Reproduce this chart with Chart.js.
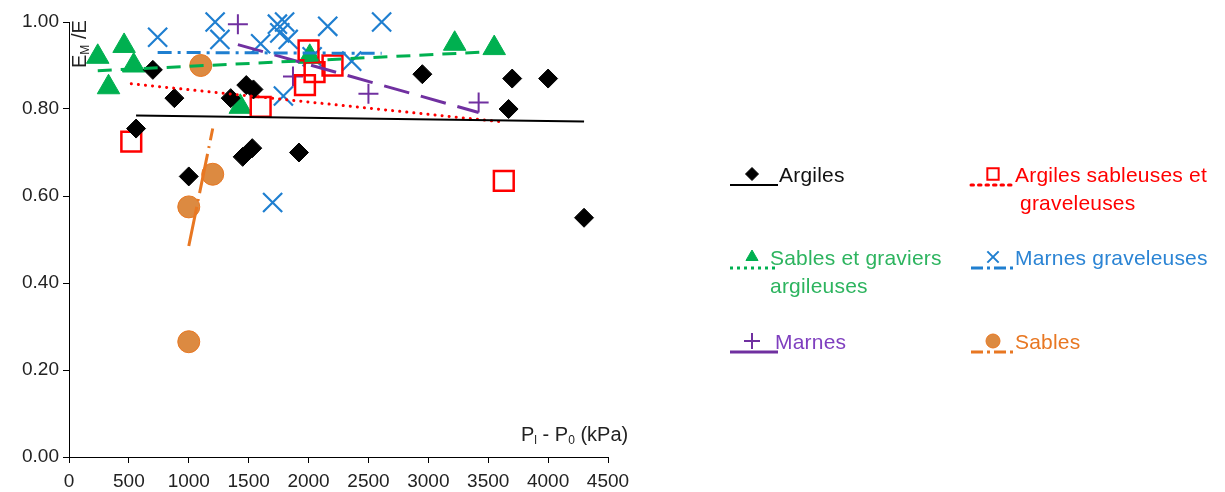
<!DOCTYPE html>
<html>
<head>
<meta charset="utf-8">
<script src="https://cdn.jsdelivr.net/npm/chart.js@4.4.1/dist/chart.umd.min.js"></script>
<style>
  body { margin: 0; background: #fff; font-family: "Liberation Sans", Arial, sans-serif; }
  #wrap { position: relative; width: 1225px; height: 492px; }
  .lbl { position: absolute; white-space: nowrap; font-size: 21px; line-height: 24px; letter-spacing: 0.2px; }
  .axt { position: absolute; white-space: nowrap; font-size: 20px; color: #222; }
  .axt sub { font-size: 12px; vertical-align: -3px; }
</style>
</head>
<body>
<div id="wrap">
  <canvas id="graf" width="1225" height="492"></canvas>
  <div class="axt" style="left:521px; top:423px;">P<sub>l</sub> - P<sub>0</sub> (kPa)</div>
  <div class="axt" style="left:50px; top:28px; transform: rotate(-90deg); transform-origin: 29px 11px;">E<sub>M</sub> /E</div>
</div>
<script>
// valeurs (Pl - P0 en kPa, EM/E)
const argilesX = [560, 700, 880, 1000, 1350, 1480, 1540, 1450, 1530, 1920, 2950, 3700, 4000, 3670, 4300];
const argilesY = [0.755, 0.89, 0.825, 0.645, 0.825, 0.855, 0.845, 0.69, 0.71, 0.70, 0.88, 0.87, 0.87, 0.80, 0.55];

const argSabX = [520, 1600, 2000, 2050, 1970, 2200, 3630];
const argSabY = [0.725, 0.805, 0.935, 0.885, 0.855, 0.90, 0.635];

const sabGravX = [240, 460, 540, 330, 1430, 2010, 3220, 3550];
const sabGravY = [0.92, 0.945, 0.90, 0.85, 0.805, 0.92, 0.95, 0.94];

const marnesGravX = [740, 1220, 1260, 1600, 1740, 1800, 1760, 1830, 2160, 2610, 2030, 2360, 1790, 1700];
const marnesGravY = [0.965, 1.0, 0.96, 0.95, 0.995, 1.0, 0.975, 0.96, 0.99, 1.0, 0.92, 0.91, 0.83, 0.585];

const marnesX = [1410, 1870, 2500, 3420];
const marnesY = [0.995, 0.875, 0.835, 0.815];

const sablesX = [1100, 1200, 1000, 1000];
const sablesY = [0.90, 0.65, 0.575, 0.265];

// courbes de tendance (extrémités)
const argilesTendX = [560, 4300];
const argilesTendY = [0.785, 0.771];
const argSabTendX = [520, 3630];
const argSabTendY = [0.858, 0.77];
const sabGravTendX = [240, 3550];
const sabGravTendY = [0.888, 0.932];
const marnesGravTendX = [740, 2610];
const marnesGravTendY = [0.93, 0.928];
const marnesTendX = [1410, 3420];
const marnesTendY = [0.948, 0.792];
const sablesTendX = [1000, 1200];
const sablesTendY = [0.485, 0.755];

const xTicks = [0, 500, 1000, 1500, 2000, 2500, 3000, 3500, 4000, 4500];
const yTicks = [0, 0.2, 0.4, 0.6, 0.8, 1.0];

const pts = (xs, ys) => xs.map((x, i) => ({ x: x, y: ys[i] }));

const noir = '#000000', rouge = '#ff0000', vert = '#00b050', bleu = '#1f7fd0', violet = '#7030a0', orange = '#e87722', orangeRond = '#dc8a41';

const series = [
  { nom: 'Argiles', col: noir, txt: '#111', style: 'rectRot', r: 9.5, fill: noir, bw: 1, dash: [], lw: 2, x: 730, y: 175, lignes: ['Argiles'] },
  { nom: 'Argiles sableuses et graveleuses', col: rouge, txt: rouge, style: 'rect', r: 14, fill: 'rgba(0,0,0,0)', bw: 2.5, dash: [0.1, 7], lw: 3, x: 971, y: 175, lignes: ['Argiles sableuses et', 'graveleuses'] },
  { nom: 'Sables et graviers argileuses', col: vert, txt: '#2db45f', style: 'triangle', r: 13, fill: vert, bw: 1, dash: [14, 9], lw: 3, x: 730, y: 258, lignes: ['Sables et graviers', 'argileuses'] },
  { nom: 'Marnes graveleuses', col: bleu, txt: '#2b84d4', style: 'crossRot', r: 13.5, fill: bleu, bw: 2.2, dash: [14, 6, 3, 6], lw: 3, x: 971, y: 258, lignes: ['Marnes graveleuses'] },
  { nom: 'Marnes', col: violet, txt: '#7f3fbf', style: 'cross', r: 10, fill: violet, bw: 2, dash: [26, 12], lw: 3, x: 730, y: 342, lignes: ['Marnes'] },
  { nom: 'Sables', col: orange, txt: orange, style: 'circle', r: 11, fill: orangeRond, bw: 1, dash: [40, 6, 2, 6], lw: 3, x: 971, y: 342, lignes: ['Sables'] }
];
const donnees = [[argilesX, argilesY], [argSabX, argSabY], [sabGravX, sabGravY], [marnesGravX, marnesGravY], [marnesX, marnesY], [sablesX, sablesY]];
const tendances = [[argilesTendX, argilesTendY], [argSabTendX, argSabTendY], [sabGravTendX, sabGravTendY], [marnesGravTendX, marnesGravTendY], [marnesTendX, marnesTendY], [sablesTendX, sablesTendY]];

const datasets = [];
series.forEach((s, i) => {
  datasets.push({
    label: s.nom + ' (tendance)',
    data: pts(tendances[i][0], tendances[i][1]),
    showLine: true,
    borderColor: s.col,
    borderWidth: s.lw,
    borderDash: s.dash,
    borderCapStyle: s.dash[0] < 1 ? 'round' : 'butt',
    pointRadius: 0,
    clip: false,
    order: 0
  });
});
series.forEach((s, i) => {
  datasets.push({
    label: s.nom,
    data: pts(donnees[i][0], donnees[i][1]),
    showLine: false,
    pointStyle: s.style,
    pointRadius: s.r,
    pointHoverRadius: s.r,
    pointBackgroundColor: s.fill,
    pointBorderColor: s.col,
    pointBorderWidth: s.bw,
    clip: false,
    order: 1
  });
});

// légende dessinée à droite : symboles sur le canvas, textes en HTML
const legendeSymboles = {
  id: 'legendeSymboles',
  afterDraw(chart) {
    const ctx = chart.ctx;
    const tailles = { rectRot: 6.5, rect: 8, triangle: 7, crossRot: 8, cross: 8, circle: 7 };
    series.forEach(s => {
      const larg = s.x < 900 ? 48 : 45;
      ctx.save();
      ctx.strokeStyle = s.col;
      ctx.lineWidth = s.lw === 2 ? 2 : 3;
      ctx.setLineDash(s.nom === 'Marnes' ? [] : (s.dash.length === 2 && s.dash[0] > 10 ? [3, 4] : s.dash.length === 4 ? [12, 4, 3, 4] : s.dash.length ? [2.5, 5] : []));
      ctx.lineCap = s.dash.length === 2 && s.dash[0] < 1 ? 'round' : 'butt';
      ctx.beginPath();
      ctx.moveTo(s.x, s.y + 10);
      ctx.lineTo(s.x + larg, s.y + 10);
      ctx.stroke();
      ctx.setLineDash([]);
      ctx.fillStyle = s.fill;
      ctx.strokeStyle = s.col;
      ctx.lineWidth = s.bw > 1.5 ? 2 : 1;
      Chart.helpers.drawPoint(ctx, { pointStyle: s.style, radius: tailles[s.style], borderWidth: ctx.lineWidth, rotation: 0 }, s.x + 22, s.y - 1);
      ctx.restore();
    });
  }
};

const wrap = document.getElementById('wrap');
series.forEach(s => {
  s.lignes.forEach((t, k) => {
    const d = document.createElement('div');
    d.className = 'lbl';
    d.textContent = t;
    d.style.color = s.txt;
    const dx = s.x < 900 ? (s.lignes.length > 1 ? 40 : (s.nom === 'Marnes' ? 45 : 49)) : (k === 0 ? 44 : 49);
    d.style.left = (s.x + dx) + 'px';
    d.style.top = (s.y - 12 + k * 28) + 'px';
    wrap.appendChild(d);
  });
});

new Chart(document.getElementById('graf'), {
  type: 'scatter',
  data: { datasets: datasets },
  plugins: [legendeSymboles],
  options: {
    responsive: false,
    animation: false,
    layout: { padding: { left: 0, right: 617, top: 22, bottom: 0 } },
    plugins: { legend: { display: false }, tooltip: { enabled: false } },
    scales: {
      x: {
        type: 'linear',
        min: 0, max: 4500,
        afterBuildTicks: sc => { sc.ticks = xTicks.map(v => ({ value: v })); },
        afterFit: sc => { sc.height = 35; },
        ticks: { color: '#222', font: { family: '"Liberation Sans", Arial', size: 19 }, padding: 7, maxRotation: 0, callback: v => String(v) },
        grid: { drawOnChartArea: false, drawTicks: true, tickLength: 6, color: '#000' },
        border: { color: '#000', width: 1 }
      },
      y: {
        type: 'linear',
        min: 0, max: 1,
        afterBuildTicks: sc => { sc.ticks = yTicks.map(v => ({ value: v })); },
        afterFit: sc => { sc.width = 69; },
        ticks: { color: '#222', font: { family: '"Liberation Sans", Arial', size: 19 }, padding: 4, callback: v => v.toFixed(2) },
        grid: { drawOnChartArea: false, drawTicks: true, tickLength: 6, color: '#000' },
        border: { color: '#000', width: 1 }
      }
    }
  }
});
</script>
</body>
</html>
